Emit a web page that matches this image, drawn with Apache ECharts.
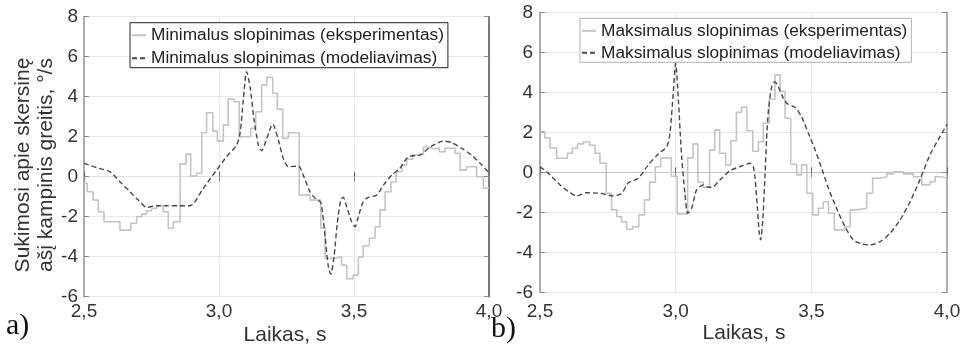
<!DOCTYPE html>
<html>
<head>
<meta charset="utf-8">
<script src="https://cdn.jsdelivr.net/npm/echarts@6/dist/echarts.min.js"></script>
<style>
  html, body { margin: 0; padding: 0; background: #fff; }
  #chart { width: 970px; height: 347px; }
</style>
</head>
<body>
<div id="chart"></div>
<script>
// Time axis ticks (s) and value axis ticks (deg/s)
const xTicks = [2.5, 3.0, 3.5, 4.0];
const yTicks = [-6, -4, -2, 0, 2, 4, 6, 8];

// a) minimal damping - measured (step samples: start time, value)
const tMinExp = [2.500, 2.512, 2.534, 2.553, 2.574, 2.633, 2.673, 2.695, 2.714, 2.732, 2.751, 2.769, 2.794, 2.812, 2.831,
  2.856, 2.878, 2.895, 2.917, 2.936, 2.954, 2.977, 2.994, 3.016, 3.034, 3.056, 3.075, 3.117, 3.136, 3.158, 3.177, 3.199,
  3.216, 3.236, 3.257, 3.297, 3.337, 3.377, 3.393, 3.433, 3.454, 3.473, 3.497, 3.516, 3.534, 3.557, 3.578, 3.596, 3.615,
  3.637, 3.656, 3.677, 3.695, 3.717, 3.738, 3.757, 3.778, 3.796, 3.816, 3.837, 3.874, 3.893, 3.917, 3.954, 3.979, 4.000];
const vMinExp = [-0.33, -0.75, -1.17, -1.75, -2.25, -2.67, -2.33, -2.0, -1.87, -1.7, -1.58, -1.45, -1.75, -2.58, -2.25,
  0.63, 1.13, 0.03, 0.17, 2.2, 3.2, 2.28, 1.78, 2.58, 3.88, 3.75, 2.0, 2.42, 3.25, 4.58, 4.97, 4.17,
  3.37, 1.92, 2.2, -0.92, -1.17, -2.58, -4.08, -4.0, -4.42, -5.1, -4.92, -4.03, -3.45, -3.08, -2.5, -1.67, -0.75,
  -0.25, 0.25, 0.58, 0.87, 1.08, 1.1, 1.47, 1.38, 1.45, 1.25, 1.42, 1.17, 0.33, 0.5, 0, -0.58, -0.58];

// a) minimal damping - model
const tMinMod = [2.500, 2.547, 2.596, 2.633, 2.670, 2.701, 2.732, 2.769, 2.806, 2.850, 2.893, 2.942, 2.991, 3.028, 3.065,
  3.078, 3.090, 3.102, 3.115, 3.130, 3.146, 3.158, 3.177, 3.199, 3.220, 3.238, 3.257, 3.294, 3.312, 3.337, 3.356, 3.377,
  3.393, 3.405, 3.414, 3.426, 3.438, 3.451, 3.460, 3.473, 3.491, 3.504, 3.516, 3.534, 3.553, 3.584, 3.609, 3.640, 3.670,
  3.701, 3.744, 3.781, 3.831, 3.862, 3.899, 3.936, 3.967, 4.000];
const vMinMod = [0.67, 0.45, 0.25, -0.25, -0.75, -1.17, -1.53, -1.45, -1.45, -1.45, -1.45, -0.58, 0.33, 1.0, 1.58,
  2.17, 3.83, 5.25, 4.5, 2.83, 1.58, 1.3, 1.92, 2.63, 1.83, 0.92, 0.5, 0.53, 0.08, -0.75, -1.08, -1.3,
  -3.0, -4.5, -4.87, -4.0, -2.33, -1.17, -1.03, -1.5, -2.25, -2.5, -2.0, -1.25, -1.03, -0.92, -0.42, 0.08, 0.42,
  1.0, 1.08, 1.47, 1.78, 1.7, 1.42, 1.08, 0.67, 0.2];

// b) maximal damping - measured (step samples)
const tMaxExp = [2.500, 2.518, 2.537, 2.561, 2.601, 2.619, 2.638, 2.660, 2.682, 2.703, 2.721, 2.744, 2.764, 2.783, 2.801,
  2.819, 2.842, 2.864, 2.885, 2.904, 2.925, 2.945, 2.984, 3.006, 3.044, 3.064, 3.082, 3.102, 3.125, 3.144, 3.162, 3.184,
  3.203, 3.224, 3.243, 3.262, 3.284, 3.305, 3.323, 3.345, 3.366, 3.385, 3.403, 3.424, 3.446, 3.464, 3.483, 3.505, 3.526,
  3.544, 3.563, 3.585, 3.624, 3.643, 3.667, 3.704, 3.726, 3.753, 3.778, 3.802, 3.839, 3.876, 3.907, 3.937, 3.956, 3.980, 4.000];
const vMaxExp = [2.03, 1.72, 1.22, 0.70, 0.95, 1.2, 1.42, 1.53, 1.35, 0.95, 0.45, -1.05, -1.88, -2.22, -2.47,
  -2.85, -2.72, -2.13, -1.38, -0.5, 0.28, 0.72, -0.2, -2.08, 0.72, 1.42, -0.5, -0.75, 1.12, 2.12, 0.95, 0.37,
  1.58, 3.0, 3.25, 2.08, 1.05, 1.53, 2.45, 3.65, 4.87, 4.05, 2.7, 0.4, -0.13, 0.37, -1.05, -2.13, -1.8,
  -1.47, -2.05, -2.88, -2.72, -1.88, -1.8, -1.05, -0.3, -0.22, -0.08, 0.03, -0.08, -0.22, -0.63, -0.47, -0.22, -0.3, -0.3];

// b) maximal damping - model
const tMaxMod = [2.500, 2.531, 2.574, 2.611, 2.635, 2.672, 2.721, 2.770, 2.801, 2.826, 2.862, 2.899, 2.936, 2.967, 2.979,
  2.991, 3.000, 3.010, 3.022, 3.034, 3.044, 3.059, 3.077, 3.102, 3.120, 3.139, 3.163, 3.200, 3.237, 3.274, 3.286, 3.292,
  3.301, 3.308, 3.313, 3.321, 3.329, 3.335, 3.342, 3.354, 3.366, 3.378, 3.391, 3.409, 3.440, 3.464, 3.489, 3.514, 3.538,
  3.563, 3.593, 3.624, 3.655, 3.686, 3.716, 3.753, 3.790, 3.827, 3.864, 3.900, 3.937, 3.974, 4.000];
const vMaxMod = [0.28, -0.05, -0.63, -1.02, -1.18, -1.02, -1.05, -1.18, -1.05, -0.52, -0.3, 0.37, 0.92, 1.28, 1.95,
  3.95, 5.45, 3.62, 0.78, -1.05, -2.05, -1.8, -0.88, -0.63, -0.75, -0.72, -0.38, 0.08, 0.28, 0.45, 0.28, -0.22,
  -1.72, -3.05, -3.38, -2.38, -0.22, 1.62, 3.12, 4.28, 4.53, 4.28, 3.87, 3.45, 3.25, 2.78, 1.95, 1.12, 0.2,
  -0.8, -1.8, -2.72, -3.38, -3.58, -3.63, -3.47, -3.05, -2.38, -1.47, -0.38, 0.87, 1.78, 2.4];

const names = {
  minExp: 'Minimalus slopinimas (eksperimentas)',
  minMod: 'Minimalus slopinimas (modeliavimas)',
  maxExp: 'Maksimalus slopinimas (eksperimentas)',
  maxMod: 'Maksimalus slopinimas (modeliavimas)'
};

const FONT = '"Liberation Sans", Arial, Helvetica, sans-serif';
const SERIF = '"Liberation Serif", "Times New Roman", serif';
const zip = (t, v) => t.map((x, i) => [x, v[i]]);
const fmtX = v => v.toFixed(1).replace('.', ',');

const expStyle = { color: '#c4c4c4', width: 1.6 };
const modStyle = { color: '#474747', width: 1.4, type: [5, 3] };

function xAxisPair(gi, bottomColor, topLine) {
  const base = {
    gridIndex: gi, type: 'value', min: xTicks[0], max: xTicks[xTicks.length - 1], interval: 0.5
  };
  return [
    Object.assign({}, base, {
      position: 'bottom',
      axisLine: { show: true, lineStyle: { color: bottomColor, width: 1.2 } },
      axisTick: { show: true, inside: true, length: 5, lineStyle: { color: '#666' } },
      axisLabel: { show: true, fontSize: 19, color: '#333', fontFamily: FONT, margin: gi === 0 ? 6 : 10, formatter: fmtX },
      splitLine: { show: true, lineStyle: { color: '#e8e8e8', width: 1 } }
    }),
    Object.assign({}, base, {
      position: 'top',
      axisLine: topLine ? { show: true, lineStyle: { color: topLine, width: 1.2 } } : { show: false },
      axisTick: { show: true, inside: true, length: 5, lineStyle: { color: '#888' } },
      axisLabel: { show: false },
      splitLine: { show: false }
    })
  ];
}

function yAxisPair(gi, leftColor, rightColor) {
  const base = {
    gridIndex: gi, type: 'value', min: yTicks[0], max: yTicks[yTicks.length - 1], interval: 2
  };
  return [
    Object.assign({}, base, {
      position: 'left',
      axisLine: { show: true, lineStyle: { color: leftColor, width: 1.6 } },
      axisTick: { show: true, inside: true, length: 5, lineStyle: { color: '#888' } },
      axisLabel: { show: true, fontSize: 19, color: '#333', fontFamily: FONT, margin: gi === 0 ? 6 : 7 },
      splitLine: { show: true, lineStyle: { color: '#e8e8e8', width: 1 } }
    }),
    Object.assign({}, base, {
      position: 'right',
      axisLine: { show: true, lineStyle: { color: rightColor, width: 1.6 } },
      axisTick: { show: true, inside: true, length: 5, lineStyle: { color: '#888' } },
      axisLabel: { show: false },
      splitLine: { show: false }
    })
  ];
}

function legendBox(left, top, border, data, gap) {
  return {
    orient: 'vertical', left: left, top: top,
    data: data, selectedMode: false,
    itemWidth: 14, itemHeight: 17, itemGap: gap,
    padding: [4, 4, 1, 1],
    borderColor: border, borderWidth: 1, backgroundColor: '#fff',
    // line swatch only, no marker dot
    itemStyle: { opacity: 0 },
    textStyle: { fontSize: 17.3, color: '#222', fontFamily: FONT },
    z: 10
  };
}

const chart = echarts.init(document.getElementById('chart'), null, { renderer: 'canvas' });

chart.setOption({
  animation: false,
  backgroundColor: '#fff',
  grid: [
    { left: 84, top: 16.7, width: 405, height: 280 },
    { left: 540, top: 12.3, width: 407, height: 280 }
  ],
  xAxis: [].concat(xAxisPair(0, '#dedede', null), xAxisPair(1, '#707070', '#c4c4c4')),
  yAxis: [].concat(yAxisPair(0, '#9a9a9a', '#5a5a5a'), yAxisPair(1, '#9a9a9a', '#a0a0a0')),
  legend: [
    legendBox(130, 22.7, '#222', [names.minExp, names.minMod], 6),
    legendBox(580, 18.3, '#b0b0b0', [names.maxExp, names.maxMod], 5)
  ],
  series: [
    { name: names.minExp, type: 'line', xAxisIndex: 0, yAxisIndex: 0, step: 'end', symbol: 'none',
      lineStyle: expStyle, itemStyle: { color: expStyle.color }, data: zip(tMinExp, vMinExp) },
    { name: names.minMod, type: 'line', xAxisIndex: 0, yAxisIndex: 0, smooth: 0.25, symbol: 'none',
      lineStyle: modStyle, itemStyle: { color: modStyle.color }, data: zip(tMinMod, vMinMod) },
    { name: names.maxExp, type: 'line', xAxisIndex: 2, yAxisIndex: 2, step: 'end', symbol: 'none',
      lineStyle: expStyle, itemStyle: { color: expStyle.color }, data: zip(tMaxExp, vMaxExp) },
    { name: names.maxMod, type: 'line', xAxisIndex: 2, yAxisIndex: 2, smooth: 0.25, symbol: 'none',
      lineStyle: modStyle, itemStyle: { color: modStyle.color }, data: zip(tMaxMod, vMaxMod) }
  ],
  graphic: [
    { type: 'text', x: 35, y: 165, rotation: Math.PI / 2,
      style: { text: 'Sukimosi apie skersinę\našį kampinis greitis, °/s', fontSize: 21, lineHeight: 23,
        fontFamily: FONT, fill: '#333', align: 'center', verticalAlign: 'middle' } },
    { type: 'text', x: 285, y: 335,
      style: { text: 'Laikas, s', fontSize: 21, fontFamily: FONT, fill: '#333', align: 'center', verticalAlign: 'middle' } },
    { type: 'text', x: 744, y: 333,
      style: { text: 'Laikas, s', fontSize: 21, fontFamily: FONT, fill: '#333', align: 'center', verticalAlign: 'middle' } },
    { type: 'text', x: 6, y: 326,
      style: { text: 'a)', fontSize: 30, fontFamily: SERIF, fill: '#111', align: 'left', verticalAlign: 'middle' } },
    { type: 'text', x: 491, y: 329, z: 20,
      style: { text: 'b)', fontSize: 30, fontFamily: SERIF, fill: '#111', align: 'left', verticalAlign: 'middle' } }
  ]
});
</script>
</body>
</html>
